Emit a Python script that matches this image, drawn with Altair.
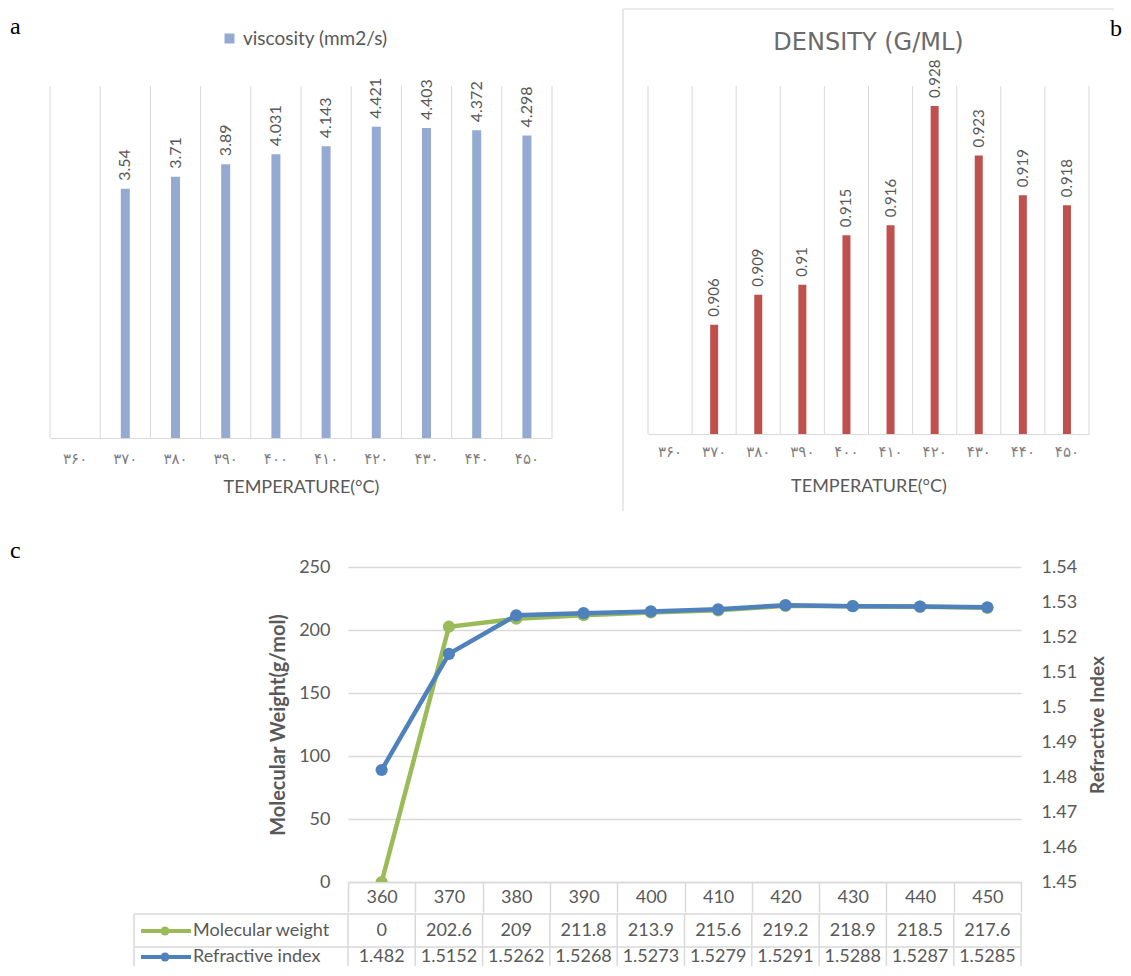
import altair as alt
import pandas as pd

# ---------------- data ----------------
temps = [360, 370, 380, 390, 400, 410, 420, 430, 440, 450]
temp_labels_fa = ["۳۶۰", "۳۷۰", "۳۸۰", "۳۹۰", "۴۰۰", "۴۱۰", "۴۲۰", "۴۳۰", "۴۴۰", "۴۵۰"]
viscosity = [None, 3.54, 3.71, 3.89, 4.031, 4.143, 4.421, 4.403, 4.372, 4.298]
density = [None, 0.906, 0.909, 0.91, 0.915, 0.916, 0.928, 0.923, 0.919, 0.918]
mol_weight = [0, 202.6, 209, 211.8, 213.9, 215.6, 219.2, 218.9, 218.5, 217.6]
refractive = [1.482, 1.5152, 1.5262, 1.5268, 1.5273, 1.5279, 1.5291, 1.5288, 1.5287, 1.5285]
mw_ticks = [0, 50, 100, 150, 200, 250]
ri_ticks = [1.45, 1.46, 1.47, 1.48, 1.49, 1.5, 1.51, 1.52, 1.53, 1.54]
series_names = ["Molecular weight", "Refractive index"]
visc_legend = "viscosity (mm2/s)"
density_title = "DENSITY (G/ML)"
panel_letters = ["a", "b", "c"]

FONT = "Lato"
SERIF = "Liberation Serif"
TXT = "#595959"
GRID = "#D9D9D9"
BLUE_BAR = "#94AAD3"
RED_BAR = "#C0504D"
GREEN = "#9BBB59"
BLUE = "#4F81BD"


def letter(ch, x, y):
    return alt.Chart(pd.DataFrame({"t": [ch]})).mark_text(
        align="left", baseline="alphabetic", font=SERIF, fontSize=24, color="black").encode(
        text="t:N", x=alt.value(x), y=alt.value(y))


def hidden_rule(x1, x2, y):
    return alt.Chart(pd.DataFrame({"t": [0]})).mark_rule(color="white", strokeWidth=1).encode(
        x=alt.value(x1), x2=alt.value(x2), y=alt.value(y))


def x_band(field, order, title, lab_pad, title_pad):
    return alt.X(
        f"{field}:N", sort=order,
        scale=alt.Scale(paddingInner=0, paddingOuter=0),
        axis=alt.Axis(title=title, labelAngle=0, ticks=False, grid=False,
                      domainColor=GRID, labelFont="DejaVu Sans", labelFontSize=15,
                      labelColor="#7F7F7F", labelPadding=lab_pad,
                      titleFont=FONT, titleFontSize=18, titleFontWeight="normal",
                      titleColor=TXT, titlePadding=title_pad),
    )

# ---------------- panel a ----------------
WA, HA = 502, 352
BA = WA / 10
df_a = pd.DataFrame({"cat": temp_labels_fa, "v": viscosity, "series": visc_legend})
xa = x_band("cat", temp_labels_fa, "TEMPERATURE(°C)", 13, 12)
base_a = alt.Chart(df_a)
valid_a = base_a.transform_filter("isValid(datum.v)")
grid_a = base_a.mark_rule(color=GRID, strokeWidth=1, xOffset=-BA / 2).encode(
    x=xa, y=alt.value(0), y2=alt.value(HA))
grid_a_end = base_a.transform_filter(alt.datum.cat == temp_labels_fa[-1]).mark_rule(
    color=GRID, strokeWidth=1, xOffset=BA / 2).encode(x=xa, y=alt.value(0), y2=alt.value(HA))
ya = alt.Y("v:Q", scale=alt.Scale(domain=[0, 5]), axis=None)
bars_a = valid_a.mark_bar(size=9, clip=True).encode(
    x=xa, y=ya,
    color=alt.Color("series:N", scale=alt.Scale(range=[BLUE_BAR]),
                    legend=alt.Legend(orient="none", legendX=170, legendY=-57, title=None,
                                      symbolType="square", symbolSize=100, symbolStrokeWidth=0,
                                      labelFont=FONT, labelFontSize=19, labelColor=TXT)))
lab_a = valid_a.mark_text(angle=270, align="left", baseline="middle", dx=8, fontSize=16,
                          font=FONT, color=TXT).encode(x=xa, y=ya, text=alt.Text("v:Q"))
chart_a = alt.layer(grid_a, grid_a_end, bars_a, lab_a, letter(panel_letters[0], -40, -52),
                    hidden_rule(0, 20, -77)).properties(width=WA, height=HA)

# ---------------- panel b ----------------
WB, HB = 441, 348
BB = WB / 10
df_b = pd.DataFrame({"cat": temp_labels_fa, "d": density})
xb = x_band("cat", temp_labels_fa, "TEMPERATURE(°C)", 10, 18)
base_b = alt.Chart(df_b)
valid_b = base_b.transform_filter("isValid(datum.d)")
grid_b = base_b.mark_rule(color=GRID, strokeWidth=1, xOffset=-BB / 2).encode(
    x=xb, y=alt.value(0), y2=alt.value(HB))
grid_b_end = base_b.transform_filter(alt.datum.cat == temp_labels_fa[-1]).mark_rule(
    color=GRID, strokeWidth=1, xOffset=BB / 2).encode(x=xb, y=alt.value(0), y2=alt.value(HB))
yb = alt.Y("d:Q", scale=alt.Scale(domain=[0.895, 0.93], zero=False), axis=None)
bars_b = valid_b.mark_bar(size=8, color=RED_BAR, clip=True).encode(x=xb, y=yb, y2=alt.value(HB))
lab_b = valid_b.mark_text(angle=270, align="left", baseline="middle", dx=8, fontSize=15,
                          font=FONT, color=TXT).encode(x=xb, y=yb, text=alt.Text("d:Q"))
one_b = pd.DataFrame({"t": [density_title]})
title_b = alt.Chart(one_b).mark_text(align="center", baseline="middle", font="DejaVu Sans",
                                     fontSize=24, color="#6B6B6B").encode(
    text="t:N", x=alt.value(WB / 2), y=alt.value(-43))
border_top = alt.Chart(one_b).mark_rule(color=GRID, strokeWidth=1.2).encode(
    x=alt.value(-25), x2=alt.value(466), y=alt.value(-77))
border_left = alt.Chart(one_b).mark_rule(color=GRID, strokeWidth=1.2).encode(
    x=alt.value(-25), y=alt.value(-77), y2=alt.value(425))
chart_b = alt.layer(grid_b, grid_b_end, bars_b, lab_b, title_b, border_top, border_left,
                    letter(panel_letters[1], 462, -50)).properties(width=WB, height=HB)

# ---------------- panel c (plot) ----------------
WC, HC = 673, 315
df_c = pd.DataFrame({"temp": temps, "mw": mol_weight, "ri": refractive})
xc = alt.X("temp:O", scale=alt.Scale(paddingInner=0, paddingOuter=0),
           axis=alt.Axis(title=None, labelAngle=0, ticks=True, tickBand="extent", tickSize=30,
                         tickColor=GRID, tickWidth=1.5, grid=False, domainColor=GRID,
                         domainWidth=1.5, labelFont=FONT, labelFontSize=18, labelColor=TXT,
                         labelPadding=-24))
base_c = alt.Chart(df_c)
y_mw = alt.Y("mw:Q", scale=alt.Scale(domain=[0, 250]),
             axis=alt.Axis(orient="left", values=mw_ticks, title="Molecular Weight(g/mol)",
                           grid=True, gridColor=GRID, gridWidth=1.5, domain=False, ticks=False,
                           labelFont=FONT, labelFontSize=18, labelColor=TXT, labelPadding=18,
                           titleFont=FONT, titleFontSize=20, titleFontWeight="bold",
                           titleColor=TXT, titlePadding=10))
y_ri = alt.Y("ri:Q", scale=alt.Scale(domain=[1.45, 1.54]),
             axis=alt.Axis(orient="right", values=ri_ticks, format="~g", title="Refractive Index",
                           grid=False, domain=False, ticks=False,
                           labelFont=FONT, labelFontSize=18, labelColor=TXT, labelPadding=20,
                           titleFont=FONT, titleFontSize=19, titleFontWeight="bold",
                           titleColor=TXT, titlePadding=31, titleAngle=270))
mw_layer = base_c.mark_line(color=GREEN, strokeWidth=4.5, clip=True,
                            point=alt.OverlayMarkDef(filled=True, size=150, color=GREEN, opacity=1)
                            ).encode(x=xc, y=y_mw)
ri_layer = base_c.mark_line(color=BLUE, strokeWidth=4.5, clip=True,
                            point=alt.OverlayMarkDef(filled=True, size=150, color=BLUE, opacity=1)
                            ).encode(x=xc, y=y_ri)
chart_c = alt.layer(mw_layer, ri_layer, hidden_rule(0, 10, -36)).resolve_scale(
    y="independent").properties(width=WC, height=HC)

# ---------------- panel c (data table rows) ----------------
HT = 52
BC = WC / 10
xt = alt.X("temp:O", scale=alt.Scale(paddingInner=0, paddingOuter=0), axis=None)
base_t = alt.Chart(df_c)
tv = base_t.mark_rule(color=GRID, strokeWidth=1.5, xOffset=-BC / 2).encode(
    x=xt, y=alt.value(0), y2=alt.value(HT))
tv_end = base_t.transform_filter(alt.datum.temp == temps[-1]).mark_rule(
    color=GRID, strokeWidth=1.5, xOffset=BC / 2).encode(x=xt, y=alt.value(0), y2=alt.value(HT))
ot = pd.DataFrame({"t": [0]})
tv_left = alt.Chart(ot).mark_rule(color=GRID, strokeWidth=1.5).encode(
    x=alt.value(-214), y=alt.value(0), y2=alt.value(HT))
th1 = alt.Chart(ot).mark_rule(color=GRID, strokeWidth=1.5).encode(
    x=alt.value(-214), x2=alt.value(WC), y=alt.value(0))
th2 = alt.Chart(ot).mark_rule(color=GRID, strokeWidth=1.5).encode(
    x=alt.value(-214), x2=alt.value(WC), y=alt.value(33))
ROW1, ROW2 = 17, 43
txt_mw = base_t.mark_text(font=FONT, fontSize=18, color=TXT).encode(
    x=xt, y=alt.value(ROW1), text=alt.Text("mw:Q"))
txt_ri = base_t.mark_text(font=FONT, fontSize=18, color=TXT).encode(
    x=xt, y=alt.value(ROW2), text=alt.Text("ri:Q"))


def key(name, color, yy):
    d = pd.DataFrame({"name": [name]})
    ln = alt.Chart(d).mark_rule(color=color, strokeWidth=4).encode(
        x=alt.value(-207), x2=alt.value(-157), y=alt.value(yy))
    pt = alt.Chart(d).mark_circle(color=color, size=80, opacity=1).encode(
        x=alt.value(-183), y=alt.value(yy))
    tx = alt.Chart(d).mark_text(align="left", baseline="middle", font=FONT, fontSize=18,
                                color=TXT).encode(text="name:N", x=alt.value(-155), y=alt.value(yy))
    return [ln, pt, tx]


keys = key(series_names[0], GREEN, ROW1) + key(series_names[1], BLUE, ROW2)
chart_t = alt.layer(tv, tv_end, tv_left, th1, th2, txt_mw, txt_ri, *keys).properties(
    width=WC, height=HT)

# spacer carrying the "c" letter, aligned with panel a's plot origin
WS = 10
spacer = alt.layer(letter(panel_letters[2], -40, -9), hidden_rule(0, WS, -36)).properties(
    width=WS, height=HC)

c_col = alt.vconcat(chart_c, chart_t, spacing=0)
c_row = alt.hconcat(spacer, c_col, spacing=72)
top = alt.hconcat(chart_a, chart_b, spacing=69)
chart = alt.vconcat(top, c_row, spacing=18).properties(
    padding={"left": 2, "top": 0, "right": 0, "bottom": 0}
).configure_view(strokeWidth=0)

chart.save("out.html", embed_options={"renderer": "svg", "actions": False})
